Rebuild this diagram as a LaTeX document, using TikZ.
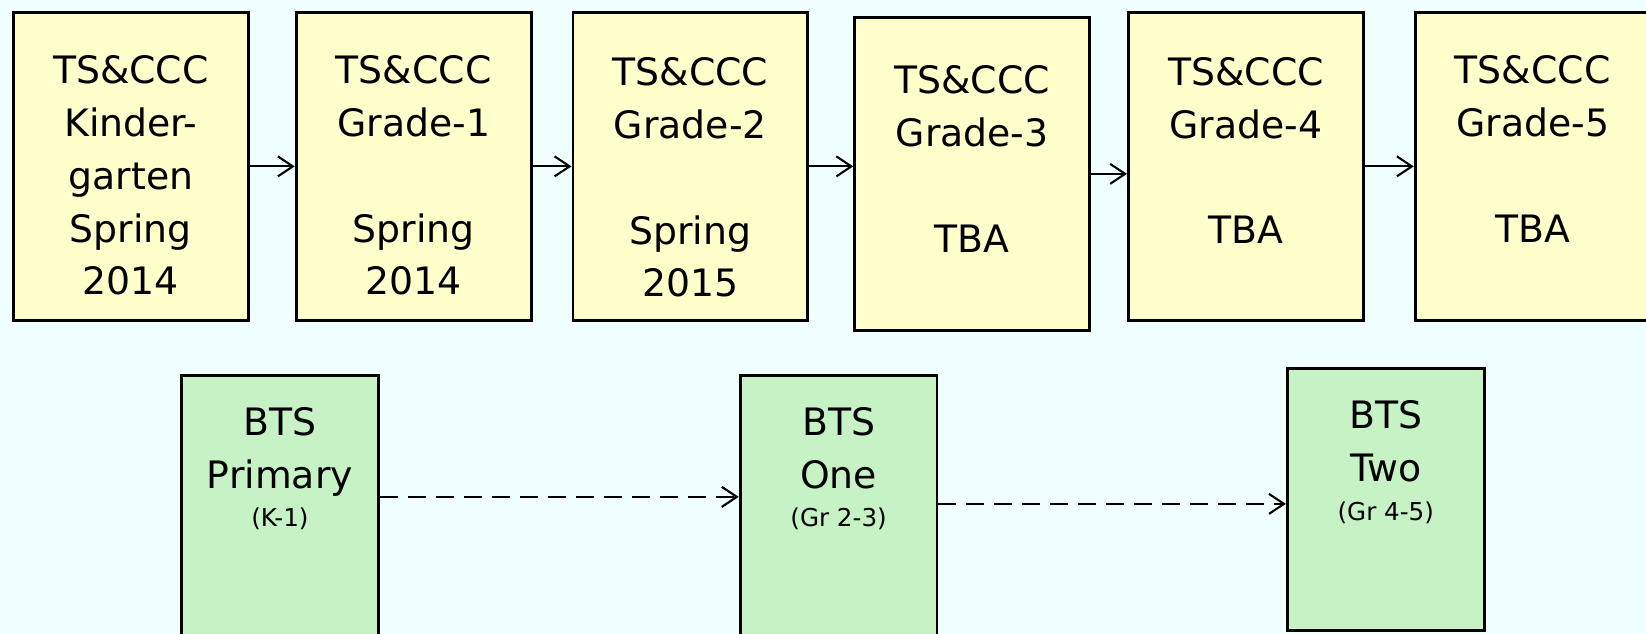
\documentclass[tikz,border=0pt]{standalone}
\usepackage{fontspec}
\setmainfont{DejaVu Sans}
\usetikzlibrary{arrows.meta, positioning}
\definecolor{cBg}{HTML}{F0FFFF}
\definecolor{cTsBg}{HTML}{FFFFCC}
\definecolor{cBtsBg}{HTML}{C6F2C6}
\definecolor{cLine}{HTML}{000000}

\begin{document}
\begin{tikzpicture}[
    x=0.02cm, y=-0.02cm,
    font=\fontsize{21.5}{30}\selectfont,
    % Box styles (text hangs from the first line)
    ts_box/.style={rectangle, draw=cLine, line width=1.6pt, fill=cTsBg, minimum width=4.7cm, inner sep=0pt, text height=1.43cm, text depth=4.73cm},
    bts_box/.style={rectangle, draw=cLine, line width=1.6pt, fill=cBtsBg, minimum width=3.94cm, inner sep=0pt, text height=1.2cm, text depth=4.04cm},
    % Arrow styles
    arrow/.style={-{Straight Barb[length=0.3cm, width=0.4cm]}, line width=1.2pt, color=cLine},
    dash_arrow/.style={arrow, dash pattern=on 0.36cm off 0.2cm}
]

% --- BACKGROUND ---
\fill[cBg] (0,0) rectangle (1646,634);
\useasboundingbox (0,0) rectangle (1646,634);

% --- TS&CCC ROW ---
\node[ts_box, anchor=north west] (kinder) at (12,11) {\begin{tabular}[t]{c}TS\&CCC\\Kinder-\\garten\\Spring\\2014\end{tabular}};
\node[ts_box, right=0.9cm of kinder] (grade1) {\begin{tabular}[t]{c}TS\&CCC\\Grade-1\\[1.06cm]Spring\\2014\end{tabular}};
\node[ts_box, right=0.78cm of grade1, text height=1.47cm, text depth=4.69cm] (grade2) {\begin{tabular}[t]{c}TS\&CCC\\Grade-2\\[1.06cm]Spring\\2015\end{tabular}};
\node[ts_box, right=0.88cm of grade2, yshift=-0.15cm, text height=1.53cm, text depth=4.73cm] (grade3) {\begin{tabular}[t]{c}TS\&CCC\\Grade-3\\[1.06cm]TBA\end{tabular}};
\node[ts_box, right=0.72cm of grade3, yshift=0.15cm, text height=1.46cm, text depth=4.7cm] (grade4) {\begin{tabular}[t]{c}TS\&CCC\\Grade-4\\[1.06cm]TBA\end{tabular}};
\node[ts_box, right=0.98cm of grade4] (grade5) {\begin{tabular}[t]{c}TS\&CCC\\Grade-5\\[1.06cm]TBA\end{tabular}};

\foreach \a/\b in {kinder/grade1, grade1/grade2, grade2/grade3, grade3/grade4, grade4/grade5} {
    \draw[arrow] (\a.east) -- (\a.east -| \b.west);
}

% --- BTS ROW ---
\node[bts_box, anchor=north west] (primary) at (180,374) {\begin{tabular}[t]{c}BTS\\Primary\\[-0.28cm]\fontsize{14}{16}\selectfont (K-1)\end{tabular}};
\node[bts_box, right=7.18cm of primary] (one) {\begin{tabular}[t]{c}BTS\\One\\[-0.28cm]\fontsize{14}{16}\selectfont (Gr 2-3)\end{tabular}};
\node[bts_box, right=6.95cm of one, yshift=0.13cm] (two) {\begin{tabular}[t]{c}BTS\\Two\\[-0.28cm]\fontsize{14}{16}\selectfont (Gr 4-5)\end{tabular}};

\draw[dash_arrow] ([yshift=0.19cm]primary.east) -- ([yshift=0.19cm]primary.east -| one.west);
\draw[dash_arrow] ([yshift=0.05cm]one.east) -- ([yshift=0.05cm]one.east -| two.west);

\end{tikzpicture}
\end{document}
